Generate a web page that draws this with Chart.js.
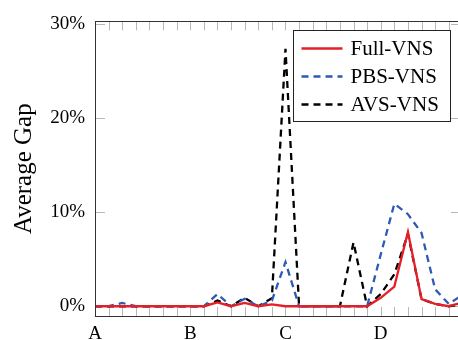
<!DOCTYPE html>
<html>
<head>
<meta charset="utf-8">
<script src="https://cdn.jsdelivr.net/npm/chart.js@4.4.0/dist/chart.umd.min.js"></script>
<style>
  html, body { margin: 0; padding: 0; overflow: hidden; background: #fff; }
</style>
</head>
<body>
<canvas id="myChart" width="466" height="340"></canvas>
<script>
// etiquetas del eje x y su posicion (indice del punto)
let etiquetas = ['A', 'B', 'C', 'D'];
let posEtiquetas = [0, 7, 14, 21];
let yTicks = [0, 10, 20, 30];

// valores en % (un punto por instancia)
let fullVNS = [0, 0, 0, 0, 0, 0, 0, 0, 0, 0.4, 0, 0.35, 0, 0.2, 0, 0, 0, 0, 0, 0, 0, 0.9, 2.1, 7.9, 0.75, 0.25, 0, 0.4];
let pbsVNS  = [0, 0, 0.35, 0, 0, 0, 0, 0, 0, 1.3, 0, 0.8, 0, 0.6, 4.7, 0, 0, 0, 0, 0, 0, 5.5, 10.9, 9.8, 7.8, 1.8, 0.25, 1.2];
let avsVNS  = [0, 0, 0, 0, 0, 0, 0, 0, 0, 0.6, 0, 0.9, 0, 0.85, 27.4, 0, 0, 0, 0, 6.8, 0, 1.3, 3.4, 7.7, 0.75, 0.25, 0, 0.2];

const fuente = 'Liberation Serif, Times New Roman, serif';

function puntos(arr) {
  return arr.map((v, i) => ({ x: i, y: v }));
}

// marco, marcas hacia dentro y leyenda
const marco = {
  id: 'marco',
  beforeDatasetsDraw(chart) {
    const { ctx, chartArea: a, scales: { x, y } } = chart;
    ctx.save();
    ctx.strokeStyle = '#b8b8b8';
    ctx.lineWidth = 1;
    ctx.beginPath();
    x.ticks.forEach(t => {
      const px = Math.round(x.getPixelForValue(t.value)) + 0.5;
      ctx.moveTo(px, a.bottom); ctx.lineTo(px, a.bottom - 9);
      ctx.moveTo(px, a.top); ctx.lineTo(px, a.top + 9);
    });
    y.ticks.forEach(t => {
      const py = Math.round(y.getPixelForValue(t.value)) + 0.5;
      ctx.moveTo(a.left, py); ctx.lineTo(a.left + 10, py);
      ctx.moveTo(a.right, py); ctx.lineTo(a.right - 10, py);
    });
    ctx.stroke();
    ctx.restore();
  },
  afterDatasetsDraw(chart) {
    const { ctx, chartArea: a } = chart;
    ctx.save();
    ctx.strokeStyle = '#333';
    ctx.lineWidth = 1;
    ctx.strokeRect(Math.round(a.left) + 0.5, Math.round(a.top) + 0.5, Math.round(a.right - a.left), Math.round(a.bottom - a.top));

    // leyenda
    const bx = Math.round(a.right - 168) + 0.5, by = Math.round(a.top + 9) + 0.5;
    const bw = 157, bh = 91;
    ctx.fillStyle = '#fff';
    ctx.fillRect(bx, by, bw, bh);
    ctx.strokeStyle = '#222';
    ctx.strokeRect(bx, by, bw, bh);
    ctx.font = '21px ' + fuente;
    ctx.textBaseline = 'middle';
    ctx.fillStyle = '#000';
    chart.data.datasets.forEach((ds, i) => {
      const ry = by + 18 + i * 28;
      ctx.strokeStyle = ds.borderColor;
      ctx.lineWidth = ds.borderWidth;
      ctx.setLineDash(ds.borderDash || []);
      ctx.beginPath();
      ctx.moveTo(bx + 8, ry); ctx.lineTo(bx + 49, ry);
      ctx.stroke();
      ctx.setLineDash([]);
      ctx.fillText(ds.label, bx + 57, ry + 1);
    });
    ctx.restore();
  }
};

let ctx = document.getElementById('myChart').getContext('2d');
let chart = new Chart(ctx, {
  type: 'line',
  data: {
    datasets: [{
      label: 'Full-VNS',
      data: puntos(fullVNS),
      borderColor: 'rgb(230, 30, 40)',
      borderWidth: 2.3,
      pointRadius: 0
    }, {
      label: 'PBS-VNS',
      data: puntos(pbsVNS),
      borderColor: 'rgb(45, 90, 180)',
      borderWidth: 2.3,
      borderDash: [7, 5],
      pointRadius: 0
    }, {
      label: 'AVS-VNS',
      data: puntos(avsVNS),
      borderColor: 'rgb(0, 0, 0)',
      borderWidth: 2.3,
      borderDash: [7, 5],
      pointRadius: 0
    }]
  },
  options: {
    responsive: false,
    animation: false,
    devicePixelRatio: 1,
    layout: { padding: { left: 0, top: 13, right: 5, bottom: 0 } },
    plugins: { legend: { display: false }, tooltip: { enabled: false } },
    scales: {
      x: {
        type: 'linear',
        min: 0,
        max: 26.9,
        afterFit(s) { s.height = 24; },
        afterBuildTicks(s) {
          let t = [];
          for (let i = 0; i <= 26; i++) t.push({ value: i });
          s.ticks = t;
        },
        ticks: {
          autoSkip: false,
          maxRotation: 0,
          padding: 7,
          color: '#000',
          font: { family: fuente, size: 19 },
          callback(v) {
            let k = posEtiquetas.indexOf(v);
            return k >= 0 ? etiquetas[k] : '';
          }
        },
        grid: { display: false, drawTicks: false },
        border: { display: false }
      },
      y: {
        min: -1.04,
        max: 30.33,
        afterFit(s) { s.width = 95; },
        afterBuildTicks(s) { s.ticks = yTicks.map(v => ({ value: v })); },
        ticks: {
          padding: 10,
          color: '#000',
          font: { family: fuente, size: 19 },
          callback: v => v + '%'
        },
        grid: { display: false, drawTicks: false },
        border: { display: false },
        title: {
          display: true,
          text: 'Average Gap',
          color: '#000',
          font: { family: fuente, size: 25 },
          padding: { top: 9, bottom: 0 }
        }
      }
    }
  },
  plugins: [marco]
});
</script>
</body>
</html>
